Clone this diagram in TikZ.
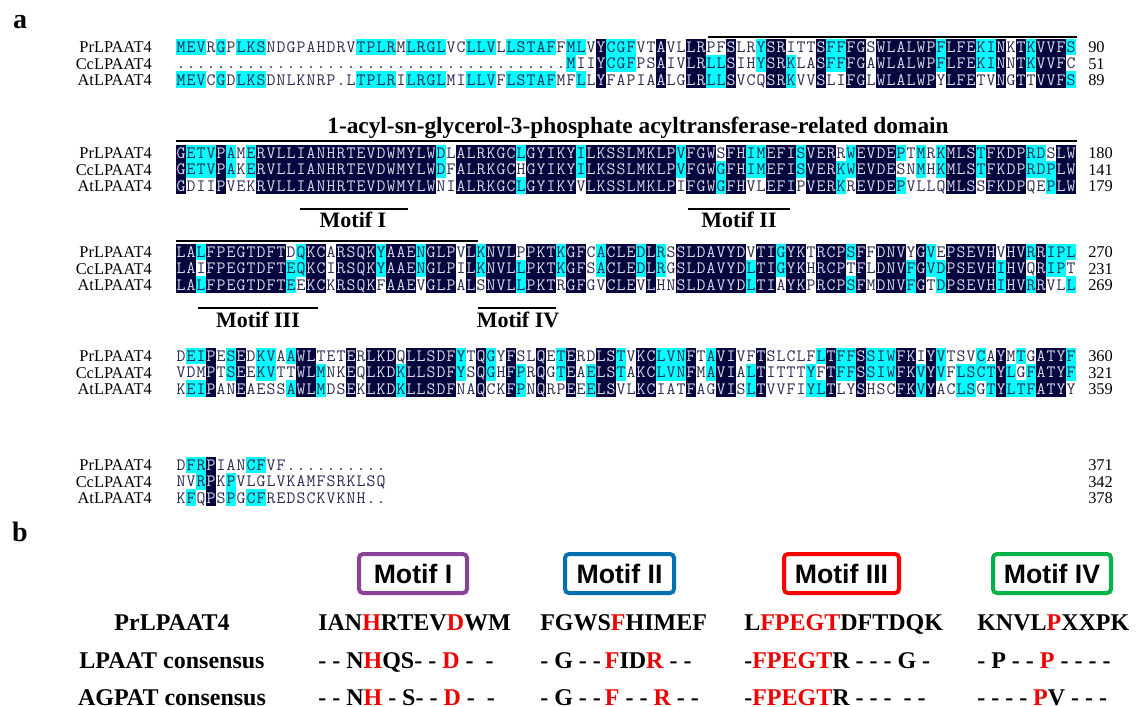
\documentclass[tikz,border=0pt]{standalone}
\usepackage{fontspec}
\setmainfont{Liberation Serif}
\newfontfamily\msans{Liberation Sans}
\definecolor{alnavy}{RGB}{6,6,62}
\definecolor{alcyan}{RGB}{0,255,255}
\definecolor{altext}{RGB}{45,45,85}
\definecolor{alwhite}{RGB}{215,215,230}
\definecolor{mpurple}{RGB}{137,66,152}
\definecolor{mblue}{RGB}{0,112,176}
\definecolor{mred}{RGB}{255,0,0}
\definecolor{mgreen}{RGB}{0,178,72}
\definecolor{cred}{RGB}{240,0,0}
\newcommand\Rd[1]{\textcolor{cred}{#1}}

\newcommand\AlCell[6]{%
  \pgfmathsetmacro\alx{176+(#2-1)*10}%
  \pgfmathsetmacro\aly{#3+(#4-1)*16.4}%
  \ifx N#6\fill[alnavy] (\alx-0.15,\aly-8.35) rectangle ++(10.3,16.7);\fi
  \ifx C#6\fill[alcyan] (\alx-0.15,\aly-8.35) rectangle ++(10.3,16.7);\fi
  \ifx N#6\def\alcol{alwhite}\else\def\alcol{altext}\fi
  \node[res,text=\alcol] (r#1-#4-#2) at (\alx+5,\aly+5.2) {#5};%
}

\ExplSyntaxOn
\tl_new:N \l__al_a_tl
\tl_new:N \l__al_b_tl
\tl_new:N \l__al_c_tl
\tl_new:N \l__al_x_tl
\tl_new:N \l__al_y_tl
\tl_new:N \l__al_z_tl
\tl_const:Nn \c__al_dot_tl { . }
\bool_new:N \l__al_xy_bool
\bool_new:N \l__al_xz_bool
\bool_new:N \l__al_yz_bool
\int_new:N \l__al_n_int
\cs_new_protected:Npn \__al_cmp:NNN #1#2#3
  {
    \bool_set_false:N #3
    \tl_if_eq:NNT #1 #2
      {
        \tl_if_empty:NF #1
          {
            \tl_if_eq:NNF #1 \c__al_dot_tl
              { \bool_set_true:N #3 }
          }
      }
  }
\cs_new_protected:Npn \__al_cell:nnnnNNN #1#2#3#4#5#6#7
  {
    \tl_if_empty:NF #5
      {
        \use:x
          {
            \exp_not:N \AlCell {#1} {#2} {#3} {#4} { \exp_not:V #5 }
              { \bool_if:NTF #6 { \bool_if:NTF #7 { N } { C } } { \bool_if:NTF #7 { C } { W } } }
          }
      }
  }
\NewDocumentCommand \AlignBlock { m m m m m }
  {
    \tl_set:Nn \l__al_a_tl {#3}
    \tl_set:Nn \l__al_b_tl {#4}
    \tl_set:Nn \l__al_c_tl {#5}
    \int_set:Nn \l__al_n_int
      { \int_max:nn { \tl_count:N \l__al_a_tl } { \int_max:nn { \tl_count:N \l__al_b_tl } { \tl_count:N \l__al_c_tl } } }
    \int_step_inline:nn { \l__al_n_int }
      {
        \tl_set:Nx \l__al_x_tl { \tl_item:Nn \l__al_a_tl {##1} }
        \tl_set:Nx \l__al_y_tl { \tl_item:Nn \l__al_b_tl {##1} }
        \tl_set:Nx \l__al_z_tl { \tl_item:Nn \l__al_c_tl {##1} }
        \__al_cmp:NNN \l__al_x_tl \l__al_y_tl \l__al_xy_bool
        \__al_cmp:NNN \l__al_x_tl \l__al_z_tl \l__al_xz_bool
        \__al_cmp:NNN \l__al_y_tl \l__al_z_tl \l__al_yz_bool
        \__al_cell:nnnnNNN {#1} {##1} {#2} {1} \l__al_x_tl \l__al_xy_bool \l__al_xz_bool
        \__al_cell:nnnnNNN {#1} {##1} {#2} {2} \l__al_y_tl \l__al_xy_bool \l__al_yz_bool
        \__al_cell:nnnnNNN {#1} {##1} {#2} {3} \l__al_z_tl \l__al_xz_bool \l__al_yz_bool
      }
  }
\ExplSyntaxOff

\newcommand\BlockLabels[5]{%
  \node[lab] (lp#1) at (152,#2+5.6) {PrLPAAT4};
  \node[lab] (lc#1) at (152,#2+22) {CcLPAAT4};
  \node[lab] (la#1) at (152,#2+38.4) {AtLPAAT4};
  \node[num] (np#1) at (1088,#2+5.6) {#3};
  \node[num] (nc#1) at (1088,#2+22) {#4};
  \node[num] (na#1) at (1088,#2+38.4) {#5};
}

\begin{document}
\begin{tikzpicture}[x=0.75pt,y=-0.75pt,
  res/.style={font=\fontsize{13}{13}\selectfont\ttfamily, inner sep=0pt, anchor=base, text=altext},
  lab/.style={font=\fontsize{12.3}{12.3}\selectfont, inner sep=0pt, anchor=base east},
  num/.style={font=\fontsize{12.3}{12.3}\selectfont, inner sep=0pt, anchor=base west},
  ann/.style={font=\fontsize{16.5}{16.5}\selectfont\bfseries, inner sep=0pt, anchor=base},
  bar/.style={line width=2.1pt},
  panel/.style={font=\fontsize{21}{21}\selectfont\bfseries, inner sep=0pt},
  mbox/.style={draw, line width=3pt, rounded corners=3pt, fill=white, inner sep=0pt,
    minimum height=29.25pt, font=\msans\bfseries\fontsize{20}{20}\selectfont},
  bseq/.style={font=\fontsize{18}{18}\selectfont\bfseries, inner sep=0pt, anchor=base west},
  blab/.style={font=\fontsize{18}{18}\selectfont\bfseries, inner sep=0pt, anchor=base}]
\useasboundingbox (0,0) rectangle (1136,707);
\fill[white] (0,0) rectangle (1136,707);

% ---------- panel a ----------
\node[panel] (pa) at (20,22) {a};

\AlignBlock{1}{47}
{MEVRGPLKSNDGPAHDRVTPLRMLRGLVCLLVLLSTAFFMLVYCGFVTAVLLRPFSLRYSRITTSFFFGSWLALWPFLFEKINKTKVVFS}
{.......................................MIIYCGFPSAIVLRLLSIHYSRKLASFFFGAWLALWPFLFEKINNTKVVFC}
{MEVCGDLKSDNLKNRP.LTPLRILRGLMILLVFLSTAFMFLLYFAPIAALGLRLLSVCQSRKVVSLIFGLWLALWPYLFETVNGTTVVFS}
\BlockLabels{1}{47}{90}{51}{89}

\AlignBlock{2}{153}
{GETVPAMERVLLIANHRTEVDWMYLWDLALRKGCLGYIKYILKSSLMKLPVFGWSFHIMEFISVERRWEVDEPTMRKMLSTFKDPRDSLW}
{GETVPAKERVLLIANHRTEVDWMYLWDFALRKGCHGYIKYILKSSLMKLPVFGWGFHIMEFISVERKWEVDESNMHKMLSTFKDPRDPLW}
{GDIIPVEKRVLLIANHRTEVDWMYLWNIALRKGCLGYIKYVLKSSLMKLPIFGWGFHVLEFIPVERKREVDEPVLLQMLSSFKDPQEPLW}
\BlockLabels{2}{153}{180}{141}{179}

\AlignBlock{3}{252}
{LALFPEGTDFTDQKCARSQKYAAENGLPVLKNVLPPKTKGFCACLEDLRSSLDAVYDVTIGYKTRCPSFFDNVYGVEPSEVHVHVRRIPL}
{LAIFPEGTDFTEQKCIRSQKYAAENGLPILKNVLLPKTKGFSACLEDLRGSLDAVYDLTIGYKHRCPTFLDNVFGVDPSEVHIHVQRIPT}
{LALFPEGTDFTEEKCKRSQKFAAEVGLPALSNVLLPKTRGFGVCLEVLHNSLDAVYDLTIAYKPRCPSFMDNVFGTDPSEVHIHVRRVLL}
\BlockLabels{3}{252}{270}{231}{269}

\AlignBlock{4}{356}
{DEIPESEDKVAAWLTETERLKDQLLSDFYTQGYFSLQETERDLSTVKCLVNFTAVIVFTSLCLFLTFFSSIWFKIYVTSVCAYMTGATYF}
{VDMPTSEEKVTTWLMNKEQLKDKLLSDFYSQGHFPRQGTEAELSTAKCLVNFMAVIALTITTTYFTFFSSIWFKVYVFLSCTYLGFATYF}
{KEIPANEAESSAWLMDSEKLKDKLLSDFNAQCKFPNQRPEEELSVLKCIATFAGVISLTVVFIYLTLYSHSCFKVYACLSGTYLTFATYY}
\BlockLabels{4}{356}{360}{321}{359}

\AlignBlock{5}{465}
{DFRPIANCFVF..........}
{NVRPKPVLGLVKAMFSRKLSQ}
{KFQPSPGCFREDSCKVKNH..}
\BlockLabels{5}{465}{371}{342}{378}

% domain and motif annotations
\draw[bar] (708,37) -- (1077,37);
\node[ann, font=\fontsize{17.5}{17.5}\selectfont\bfseries] (dom) at (638,133) {1-acyl-sn-glycerol-3-phosphate acyltransferase-related domain};
\draw[bar] (176,141) -- (1077,141);
\draw[bar] (300,209) -- (408,209);
\node[ann] (mt1) at (353,227) {Motif I};
\draw[bar] (688,209) -- (790,209);
\node[ann] (mt2) at (739,227) {Motif II};
\draw[bar] (176,241) -- (478,241);
\draw[bar] (198,308) -- (318,308);
\node[ann] (mt3) at (258,327) {Motif III};
\draw[bar] (478,308) -- (556,308);
\node[ann] (mt4) at (518,327) {Motif IV};

% ---------- panel b ----------
\node[panel] (pb) at (20,532) {b};
\node[mbox, draw=mpurple, minimum width=81pt] (m1) at (413,573.5) {Motif I};
\node[mbox, draw=mblue, minimum width=81.75pt] (m2) at (619.5,573.5) {Motif II};
\node[mbox, draw=mred, minimum width=86.25pt] (m3) at (841.5,573.5) {Motif III};
\node[mbox, draw=mgreen, minimum width=88.5pt] (m4) at (1052,573.5) {Motif IV};

\node[blab] (bl1) at (172,630) {PrLPAAT4};
\node[blab] (bl2) at (172,668) {LPAAT consensus};
\node[blab] (bl3) at (172,705) {AGPAT consensus};

\node[bseq] (s11) at (318,630) {IAN\Rd{H}RTEV\Rd{D}WM};
\node[bseq] (s12) at (318,668) {- - N\Rd{H}QS- - \Rd{D} - \ -};
\node[bseq] (s13) at (318,705) {- - N\Rd{H} - S- - \Rd{D} - \ -};

\node[bseq] (s21) at (540,630) {FGWS\Rd{F}HIMEF};
\node[bseq] (s22) at (540,668) {- G - -\,\Rd{F}ID\Rd{R} - -};
\node[bseq] (s23) at (540,705) {- G - -\,\Rd{F} - - \Rd{R} - -};

\node[bseq] (s31) at (744,630) {L\Rd{FPEGT}DFTDQK};
\node[bseq] (s32) at (744,668) {-\Rd{FPEGT}R - - - G -};
\node[bseq] (s33) at (744,705) {-\Rd{FPEGT}R - - - \ - -};

\node[bseq] (s41) at (977,630) {KNVL\Rd{P}XXPK};
\node[bseq] (s42) at (977,668) {- P - - \Rd{P} - - - -};
\node[bseq] (s43) at (977,705) {- - - - \Rd{P}V - - -};
\end{tikzpicture}
\end{document}
